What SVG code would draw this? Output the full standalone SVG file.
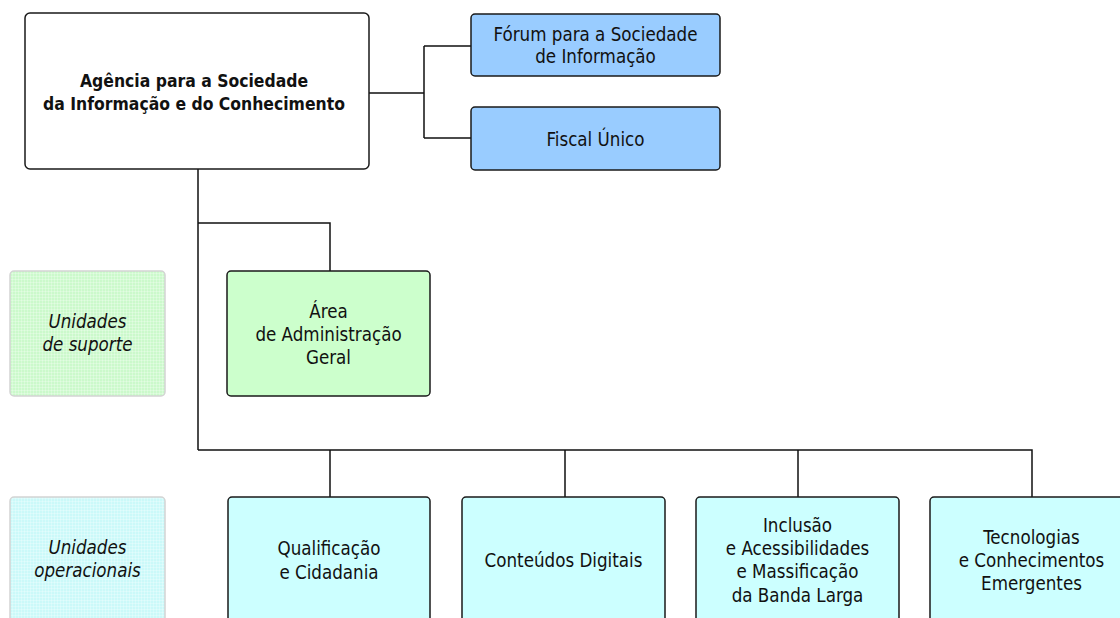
<svg xmlns="http://www.w3.org/2000/svg" width="1120" height="618" viewBox="0 0 1120 618">
<defs>
<pattern id="texG" width="3" height="3" patternUnits="userSpaceOnUse">
<rect width="3" height="3" fill="#cbf9cb"/>
<path d="M0,0.5 H3 M0.5,0 V3" stroke="#ffffff" stroke-opacity="0.25" stroke-width="1"/>
</pattern>
<pattern id="texC" width="3" height="3" patternUnits="userSpaceOnUse">
<rect width="3" height="3" fill="#cbf9f9"/>
<path d="M0,0.5 H3 M0.5,0 V3" stroke="#ffffff" stroke-opacity="0.25" stroke-width="1"/>
</pattern>
</defs>
<style>
.box{stroke:#1a1a1a;stroke-width:1.5}
.side{stroke:#d4d4d4;stroke-width:1.5}
.t{font-family:"DejaVu Sans Condensed","DejaVu Sans",sans-serif;font-size:18.6px;fill:#111;text-anchor:middle}
.b{font-weight:bold;font-size:17.4px}
.i{font-style:italic}
.conn{fill:none;stroke:#111;stroke-width:1.5}
</style>
<rect width="1120" height="618" fill="#ffffff"/>
<g id="connectors" class="conn">
<path d="M369,93 H424 M424,46 V138 M424,46 H471 M424,138 H471"/>
<path d="M198,169 V450 M198,223 H330 V271"/>
<path d="M198,450 H1032 V497 M330,450 V497 M565,450 V497 M798,450 V497"/>
</g>
<g id="side-suporte">
<rect class="side" x="10" y="271" width="155" height="125" rx="4" fill="url(#texG)"/>
<text class="t i" x="87.5" y="328">Unidades</text>
<text class="t i" x="87.5" y="351">de suporte</text>
</g>
<g id="side-operacionais">
<rect class="side" x="10" y="497" width="155" height="130" rx="4" fill="url(#texC)"/>
<text class="t i" x="87.5" y="554">Unidades</text>
<text class="t i" x="87.5" y="577">operacionais</text>
</g>
<g id="agencia">
<rect class="box" x="25" y="13" width="344" height="156" rx="5" fill="#ffffff"/>
<text class="t b" x="194" y="87">Agência para a Sociedade</text>
<text class="t b" x="194" y="110">da Informação e do Conhecimento</text>
</g>
<g id="forum">
<rect class="box" x="471" y="14" width="249" height="62" rx="4" fill="#99ccff"/>
<text class="t" x="595.5" y="41">Fórum para a Sociedade</text>
<text class="t" x="595.5" y="63">de Informação</text>
</g>
<g id="fiscal">
<rect class="box" x="471" y="107" width="249" height="63" rx="4" fill="#99ccff"/>
<text class="t" x="595.5" y="146">Fiscal Único</text>
</g>
<g id="area-admin">
<rect class="box" x="227" y="271" width="203" height="125" rx="4" fill="#ccffcc"/>
<text class="t" x="328.5" y="318">Área</text>
<text class="t" x="328.5" y="341">de Administração</text>
<text class="t" x="328.5" y="364">Geral</text>
</g>
<g id="qualificacao">
<rect class="box" x="228" y="497" width="202" height="130" rx="4" fill="#ccffff"/>
<text class="t" x="329" y="555">Qualificação</text>
<text class="t" x="329" y="579">e Cidadania</text>
</g>
<g id="conteudos">
<rect class="box" x="462" y="497" width="203" height="130" rx="4" fill="#ccffff"/>
<text class="t" x="563.5" y="567">Conteúdos Digitais</text>
</g>
<g id="inclusao">
<rect class="box" x="696" y="497" width="203" height="130" rx="4" fill="#ccffff"/>
<text class="t" x="797.5" y="532">Inclusão</text>
<text class="t" x="797.5" y="555">e Acessibilidades</text>
<text class="t" x="797.5" y="578">e Massificação</text>
<text class="t" x="797.5" y="602">da Banda Larga</text>
</g>
<g id="tecnologias">
<rect class="box" x="930" y="497" width="203" height="130" rx="4" fill="#ccffff"/>
<text class="t" x="1031.5" y="544">Tecnologias</text>
<text class="t" x="1031.5" y="567">e Conhecimentos</text>
<text class="t" x="1031.5" y="590">Emergentes</text>
</g>
</svg>
